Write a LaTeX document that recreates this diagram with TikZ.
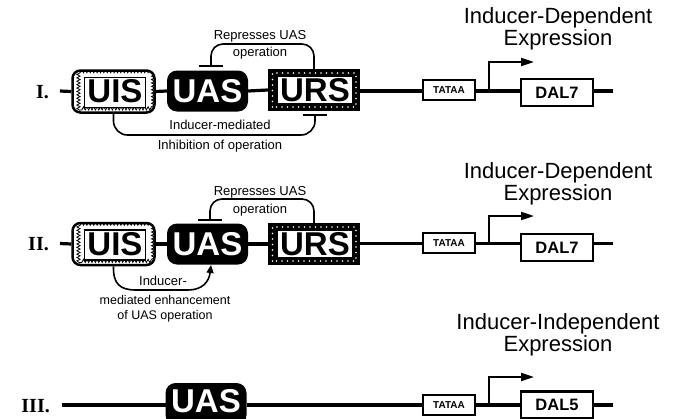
\documentclass[tikz,border=0pt]{standalone}
\usepackage{fontspec}
\setmainfont{Liberation Sans}
\newfontfamily\serifb{Liberation Serif}
\usetikzlibrary{arrows.meta,decorations.pathmorphing,calc}
\begin{document}
\begin{tikzpicture}[x=1pt,y=-1pt,
  dna/.style={line width=3.2pt},
  brk/.style={line width=1.6pt},
  arr/.style={line width=2pt,-{Triangle[length=13pt,width=8pt]}},
  rowlab/.style={font=\serifb\bfseries\fontsize{20}{22}\selectfont, anchor=east, inner sep=0pt},
  big/.style={font=\bfseries\fontsize{33}{33}\selectfont, inner sep=0pt},
  note/.style={font=\fontsize{13}{18}\selectfont, align=center, inner sep=0pt},
  title/.style={font=\fontsize{22}{22}\selectfont, align=center, inner sep=0pt},
  uisbox/.style={big, draw, line width=2.5pt, rounded corners=8pt, minimum width=82pt, minimum height=42pt, fill=white,
    path picture={
      \draw[line width=0.8pt, sharp corners, decorate, decoration={snake,segment length=3.4pt,amplitude=1.6pt}]
        ($(path picture bounding box.south west)+(6pt,3pt)$) rectangle ($(path picture bounding box.north east)+(-5pt,-3.5pt)$);
      \draw[line width=1.1pt, fill=white, sharp corners]
        ($(path picture bounding box.south west)+(12pt,5pt)$) rectangle ($(path picture bounding box.north east)+(-9pt,-7pt)$);
    }},
  uasbox/.style={big, fill=black, text=white, rounded corners=10pt, minimum width=81pt, minimum height=41pt},
  ursbox/.style={big, fill=black, minimum width=92pt, minimum height=42pt,
    path picture={
      \draw[white, line width=1.8pt, line cap=round, dash pattern=on 0pt off 5.5pt]
        ($(path picture bounding box.south west)+(4.5pt,4pt)$) rectangle ($(path picture bounding box.north east)+(-4pt,-4pt)$);
      \fill[white]
        ($(path picture bounding box.south west)+(10pt,8pt)$) rectangle ($(path picture bounding box.north east)+(-8pt,-8pt)$);
    }},
  tatabox/.style={draw, line width=1.8pt, fill=white, minimum width=52pt, minimum height=20pt, inner sep=0pt, font=\bfseries\fontsize{10}{10}\selectfont},
  dalbox/.style={draw, line width=2.3pt, fill=white, minimum width=72pt, minimum height=27pt, inner sep=0pt, font=\bfseries\fontsize{16.5}{16.5}\selectfont}
]
\useasboundingbox (0,0) rectangle (674,418);
\clip (0,0) rectangle (674,418);

% ---------- Row I ----------
\node[rowlab] (lab1) at (49,92) {I.};
\coordinate (s1) at (60,91);
\node[uisbox] (uis1) at (113.5,91.5) {\hspace*{3pt}UIS};
\node[uasbox] (uas1) at (207.5,91) {UAS};
\node[ursbox] (urs1) at (314,90) {\hspace*{2pt}URS};
\node[tatabox] (t1) at (449,90) {TATAA};
\node[dalbox] (d1) at (557,92.5) {DAL7};
\coordinate (e1) at (613,91);
\draw[dna] (s1) -- (uis1.west);
\draw[dna] (uis1.east) -- (uas1.west);
\draw[dna] (uas1.east) -- (urs1.west);
\draw[dna] (urs1.east |- s1) -- (t1.west |- s1);
\draw[dna] (t1.east |- s1) -- (d1.west |- s1);
\draw[dna] (d1.east |- s1) -- (e1);
\coordinate (tss1) at (489,91);
\coordinate (tip1) at (534,62);
\draw[arr] (tss1) |- (tip1);
\node[title] (h1) at (558,29) {Inducer-Dependent\\Expression};
% repress bracket
\coordinate (rep1) at (211,66);
\draw[brk] ($(rep1)+(-12,0)$) -- ($(rep1)+(12,0)$);
\draw[brk, rounded corners=12pt] (rep1) |- (314,44) -- (urs1.north);
\node[note, font=\fontsize{13}{17}\selectfont] (rt1) at (260,45) {Represses UAS\\operation};
% inhibition bracket
\coordinate (inh1) at (315,115);
\draw[brk] ($(inh1)+(-12,0)$) -- ($(inh1)+(12,0)$);
\draw[brk, rounded corners=14pt] (uis1.south) |- (200,135) -| (inh1);
\node[note, font=\fontsize{13}{20}\selectfont] (it1) at (220,136) {Inducer-mediated\\Inhibition of operation};

% ---------- Row II ----------
\node[rowlab] (lab2) at (49,244) {II.};
\coordinate (s2) at (60,243.5);
\node[uisbox] (uis2) at (113.5,244) {\hspace*{3pt}UIS};
\node[uasbox] (uas2) at (207.5,244) {UAS};
\node[ursbox] (urs2) at (314,244) {\hspace*{2pt}URS};
\node[tatabox] (t2) at (449,243) {TATAA};
\node[dalbox] (d2) at (557,247.5) {DAL7};
\coordinate (e2) at (613,243.5);
\draw[dna] (s2) -- (uis2.west);
\draw[dna] (uis2.east) -- (uas2.west);
\draw[dna] (uas2.east) -- (urs2.west);
\draw[dna] (urs2.east |- s2) -- (t2.west |- s2);
\draw[dna] (t2.east |- s2) -- (d2.west |- s2);
\draw[dna] (d2.east |- s2) -- (e2);
\coordinate (tss2) at (489,243.5);
\coordinate (tip2) at (534,216);
\draw[arr] (tss2) |- (tip2);
\node[title] (h2) at (558,184) {Inducer-Dependent\\Expression};
\coordinate (rep2) at (210,220);
\draw[brk] ($(rep2)+(-12,0)$) -- ($(rep2)+(12,0)$);
\draw[brk, rounded corners=12pt] (rep2) |- (314,199) -- (urs2.north);
\node[note] (rt2) at (260,201) {Represses UAS\\operation};
\coordinate (enh2) at (211,265);
\draw[brk, -{Triangle[length=8pt,width=7pt]}] (uis2.south) .. controls (113,284) and (120,290) .. (136,290) -- (188,290) .. controls (202,290) and (209,282) .. (enh2);
\node[note] (en2a) at (163,281) {Inducer-};
\node[note, font=\fontsize{12.5}{15}\selectfont] (en2b) at (165,309) {mediated enhancement\\of UAS operation};

% ---------- Row III ----------
\node[rowlab] (lab3) at (50,406) {III.};
\coordinate (s3) at (62,405);
\coordinate (u3) at (206,401);
\coordinate (u3w) at (165.5,405);
\coordinate (u3e) at (246.5,405);
\fill[rounded corners=10pt] (165.5,383) rectangle (246.5,425);
\node[big, text=white] (uas3) at (u3) {UAS};
\node[tatabox] (t3) at (449,405) {TATAA};
\node[dalbox] (d3) at (557,405) {DAL5};
\coordinate (e3) at (613,405);
\draw[dna] (s3) -- (u3w);
\draw[dna] (u3e) -- (t3.west);
\draw[dna] (t3.east |- s3) -- (d3.west |- s3);
\draw[dna] (d3.east |- s3) -- (e3);
\coordinate (tss3) at (489,405);
\coordinate (tip3) at (534,377);
\draw[arr] (tss3) |- (tip3);
\node[title] (h3) at (558,335) {Inducer-Independent\\Expression};
\end{tikzpicture}
\end{document}
